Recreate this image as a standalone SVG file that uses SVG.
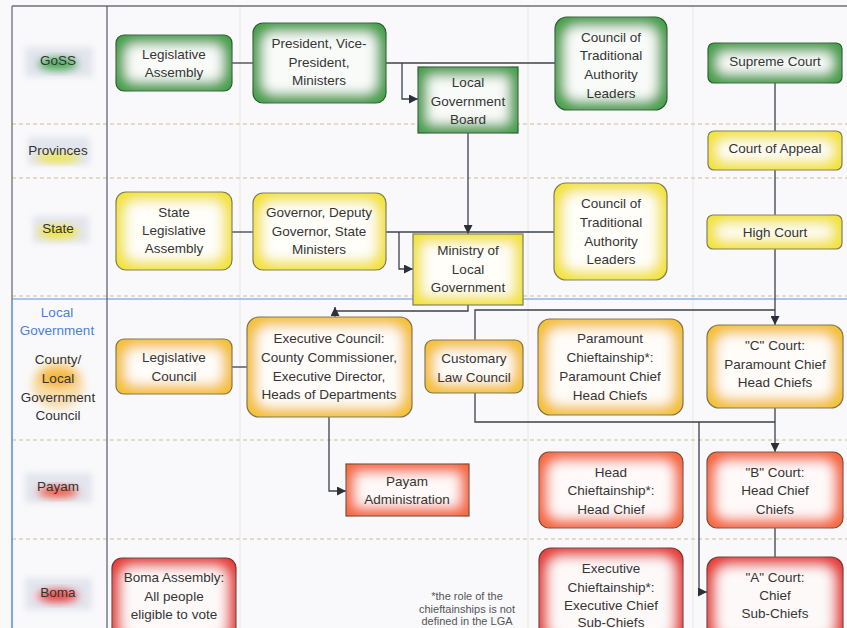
<svg xmlns="http://www.w3.org/2000/svg" width="847" height="628" viewBox="0 0 847 628">
<defs>
<style>
.t{font-family:"Liberation Sans",Arial,sans-serif;font-size:13.5px;fill:#353535;text-anchor:middle;dominant-baseline:central}
.lb{font-family:"Liberation Sans",Arial,sans-serif;font-size:13.5px;fill:#333;text-anchor:middle;dominant-baseline:central}
.blue{fill:#4a80dc}
.fn{font-family:"Liberation Sans",Arial,sans-serif;font-size:11px;fill:#555;text-anchor:middle;dominant-baseline:central}
.c{fill:none;stroke:#3b404c;stroke-width:1.3}
.box{filter:url(#glow);stroke-width:1.2}
.g{fill:#46a04c;stroke:#2f5a33}
.y{fill:#f3e33a;stroke:#7d7a5a}
.o{fill:#f4c133;stroke:#7d6f55}
.p{fill:#f56a3e;stroke:#7a4a40}
.r{fill:#e63f3b;stroke:#6e3535}
.hd{fill:none;stroke:#d9d2b8;stroke-width:1.5;stroke-dasharray:4 3}
.vf{fill:none;stroke:#ebe6da;stroke-width:1}
.halo{fill:#e3e5ee;filter:url(#soft)}
</style>
<filter id="glow" x="-5%" y="-5%" width="110%" height="110%">
<feMorphology in="SourceAlpha" operator="erode" radius="10" result="e"/>
<feGaussianBlur in="e" stdDeviation="6" result="b"/>
<feFlood flood-color="#ffffff" flood-opacity="0.95"/>
<feComposite in2="b" operator="in" result="w"/>
<feMerge><feMergeNode in="SourceGraphic"/><feMergeNode in="w"/></feMerge>
</filter>
<filter id="soft" x="-30%" y="-30%" width="160%" height="160%"><feGaussianBlur stdDeviation="3"/></filter>
<filter id="soft2" x="-50%" y="-50%" width="200%" height="200%"><feGaussianBlur stdDeviation="4"/></filter>
<marker id="arr" viewBox="0 0 10 10" refX="10" refY="5" markerWidth="9" markerHeight="9" markerUnits="userSpaceOnUse" orient="auto"><path d="M0,0 L10,5 L0,10 z" fill="#2a2f3a"/></marker>
</defs>
<rect width="847" height="628" fill="#f9f9fb"/>
<g id="grid">
<path class="vf" d="M240,6 V628 M528,6 V628 M693,6 V628"/>
<path class="hd" d="M12,124 H847 M12,178 H847 M12,296 H847 M12,440 H847 M12,539 H847"/>
<path d="M12,299 H847" stroke="#8fb2ea" stroke-width="1.5" fill="none"/>
<path d="M12,6 H847" stroke="#6a6f7a" stroke-width="1.3" fill="none"/>
<path d="M12,6 V299" stroke="#6a6f7a" stroke-width="1.3" fill="none"/>
<path d="M12,299 V628" stroke="#6f9ae0" stroke-width="1.8" fill="none"/>
<path d="M107,6 V628" stroke="#55596a" stroke-width="1.2" fill="none"/>
</g>
<g id="lane-goss"><rect class="halo" x="25" y="47" width="68" height="30"/><ellipse cx="58" cy="64" rx="20" ry="6" fill="#3fa34a" filter="url(#soft2)"/><text class="lb" x="58" y="60">GoSS</text></g>
<g id="lane-provinces"><rect class="halo" x="28" y="137" width="62" height="28"/><ellipse cx="58" cy="158" rx="22" ry="4" fill="#f2e52a" filter="url(#soft2)"/><text class="lb" x="58" y="150">Provinces</text></g>
<g id="lane-state"><rect class="halo" x="33" y="216" width="56" height="27"/><ellipse cx="58" cy="232" rx="20" ry="6" fill="#f2e52a" filter="url(#soft2)"/><text class="lb" x="58" y="228">State</text></g>
<g id="lane-county"><ellipse cx="58" cy="385" rx="26" ry="24" fill="#f7dcaa" filter="url(#soft2)"/><ellipse cx="58" cy="378" rx="18" ry="9" fill="#f5b53a" filter="url(#soft2)"/>
<text class="lb blue" x="57" y="312">Local</text><text class="lb blue" x="57" y="330">Government</text>
<text class="lb" x="58" y="359">County/</text><text class="lb" x="58" y="378">Local</text><text class="lb" x="58" y="397">Government</text><text class="lb" x="58" y="415">Council</text></g>
<g id="lane-payam"><rect class="halo" x="25" y="473" width="67" height="30"/><ellipse cx="58" cy="492" rx="20" ry="5" fill="#f04a30" filter="url(#soft2)"/><text class="lb" x="58" y="486">Payam</text></g>
<g id="lane-boma"><rect class="halo" x="25" y="578" width="67" height="32"/><ellipse cx="58" cy="596" rx="20" ry="6" fill="#ea3b36" filter="url(#soft2)"/><text class="lb" x="58" y="592">Boma</text></g>
<g id="connectors">
<path class="c" d="M232,63 H253"/>
<path class="c" d="M386,63 H555"/>
<path class="c" d="M402,63 V99 H418" marker-end="url(#arr)"/>
<path class="c" d="M468,133 V234" marker-end="url(#arr)"/>
<path class="c" d="M232,232 H253"/>
<path class="c" d="M386,232 H554"/>
<path class="c" d="M399,232 V269 H413" marker-end="url(#arr)"/>
<path class="c" d="M775,83 V131"/>
<path class="c" d="M775,170 V215"/>
<path class="c" d="M775,249 V325" marker-end="url(#arr)"/>
<path class="c" d="M475,340 V310 H775"/>
<path class="c" d="M468,305 V311 H335"/>
<path class="c" d="M335,317 V307" marker-end="url(#arr)"/>
<path class="c" d="M232,367 H247"/>
<path class="c" d="M329,417 V491 H346" marker-end="url(#arr)"/>
<path class="c" d="M475,393 V422 H775"/>
<path class="c" d="M775,408 V452" marker-end="url(#arr)"/>
<path class="c" d="M775,528 V557"/>
<path class="c" d="M699,422 V592 H707" marker-end="url(#arr)"/>
</g>
<g id="n-legislative-assembly"><rect class="box g" x="116" y="35" width="116" height="56" rx="8"/><text class="t" x="174" y="54">Legislative</text><text class="t" x="174" y="72">Assembly</text></g>
<g id="n-president"><rect class="box g" x="253" y="23" width="133" height="80" rx="10"/><text class="t" x="319" y="43">President, Vice-</text><text class="t" x="319" y="62">President,</text><text class="t" x="319" y="80">Ministers</text></g>
<g id="n-lgb"><rect class="box g" x="418" y="67" width="100" height="66"/><text class="t" x="468" y="82">Local</text><text class="t" x="468" y="101">Government</text><text class="t" x="468" y="119">Board</text></g>
<g id="n-ctal-goss"><rect class="box g" x="555" y="17" width="112" height="93" rx="12"/><text class="t" x="611" y="37">Council of</text><text class="t" x="611" y="55">Traditional</text><text class="t" x="611" y="74">Authority</text><text class="t" x="611" y="93">Leaders</text></g>
<g id="n-supreme-court"><rect class="box g" x="708" y="43" width="134" height="40" rx="6"/><text class="t" x="775" y="61">Supreme Court</text></g>
<g id="n-court-appeal"><rect class="box y" x="708" y="131" width="134" height="39" rx="6"/><text class="t" x="775" y="148">Court of Appeal</text></g>
<g id="n-state-la"><rect class="box y" x="116" y="192" width="116" height="78" rx="10"/><text class="t" x="174" y="212">State</text><text class="t" x="174" y="230">Legislative</text><text class="t" x="174" y="248">Assembly</text></g>
<g id="n-governor"><rect class="box y" x="253" y="193" width="133" height="77" rx="10"/><text class="t" x="319" y="212">Governor, Deputy</text><text class="t" x="319" y="231">Governor, State</text><text class="t" x="319" y="249">Ministers</text></g>
<g id="n-mlg"><rect class="box y" x="413" y="234" width="110" height="71"/><text class="t" x="468" y="250">Ministry of</text><text class="t" x="468" y="269">Local</text><text class="t" x="468" y="287">Government</text></g>
<g id="n-ctal-state"><rect class="box y" x="554" y="183" width="113" height="97" rx="12"/><text class="t" x="611" y="203">Council of</text><text class="t" x="611" y="222">Traditional</text><text class="t" x="611" y="241">Authority</text><text class="t" x="611" y="259">Leaders</text></g>
<g id="n-high-court"><rect class="box y" x="707" y="215" width="135" height="34" rx="6"/><text class="t" x="775" y="232">High Court</text></g>
<g id="n-leg-council"><rect class="box o" x="116" y="339" width="116" height="55" rx="8"/><text class="t" x="174" y="357">Legislative</text><text class="t" x="174" y="376">Council</text></g>
<g id="n-exec-council"><rect class="box o" x="247" y="317" width="165" height="100" rx="12"/><text class="t" x="329" y="338">Executive Council:</text><text class="t" x="329" y="357">County Commissioner,</text><text class="t" x="329" y="376">Executive Director,</text><text class="t" x="329" y="394">Heads of Departments</text></g>
<g id="n-customary"><rect class="box o" x="425" y="340" width="98" height="53" rx="8"/><text class="t" x="474" y="358">Customary</text><text class="t" x="474" y="377">Law Council</text></g>
<g id="n-paramount"><rect class="box o" x="538" y="319" width="145" height="96" rx="12"/><text class="t" x="610" y="338">Paramount</text><text class="t" x="610" y="357">Chieftainship*:</text><text class="t" x="610" y="376">Paramount Chief</text><text class="t" x="610" y="395">Head Chiefs</text></g>
<g id="n-c-court"><rect class="box o" x="707" y="325" width="136" height="83" rx="12"/><text class="t" x="775" y="345">"C" Court:</text><text class="t" x="775" y="364">Paramount Chief</text><text class="t" x="775" y="382">Head Chiefs</text></g>
<g id="n-payam-admin"><rect class="box p" x="346" y="464" width="123" height="52"/><text class="t" x="407" y="481">Payam</text><text class="t" x="407" y="499">Administration</text></g>
<g id="n-head-chief"><rect class="box p" x="539" y="452" width="144" height="76" rx="10"/><text class="t" x="611" y="472">Head</text><text class="t" x="611" y="490">Chieftainship*:</text><text class="t" x="611" y="509">Head Chief</text></g>
<g id="n-b-court"><rect class="box p" x="707" y="452" width="136" height="76" rx="10"/><text class="t" x="775" y="472">"B" Court:</text><text class="t" x="775" y="490">Head Chief</text><text class="t" x="775" y="509">Chiefs</text></g>
<g id="n-boma-assembly"><rect class="box r" x="112" y="558" width="124" height="90" rx="10"/><text class="t" x="174" y="577">Boma Assembly:</text><text class="t" x="174" y="596">All people</text><text class="t" x="174" y="614">eligible to vote</text></g>
<g id="n-exec-chief"><rect class="box r" x="539" y="548" width="144" height="100" rx="12"/><text class="t" x="611" y="568">Executive</text><text class="t" x="611" y="587">Chieftainship*:</text><text class="t" x="611" y="605">Executive Chief</text><text class="t" x="611" y="622">Sub-Chiefs</text></g>
<g id="n-a-court"><rect class="box r" x="707" y="557" width="136" height="90" rx="12"/><text class="t" x="775" y="577">"A" Court:</text><text class="t" x="775" y="595">Chief</text><text class="t" x="775" y="613">Sub-Chiefs</text></g>
<g id="footnote"><text class="fn" x="467" y="596">*the role of the</text><text class="fn" x="467" y="609">chieftainships is not</text><text class="fn" x="467" y="621">defined in the LGA</text></g>
</svg>
